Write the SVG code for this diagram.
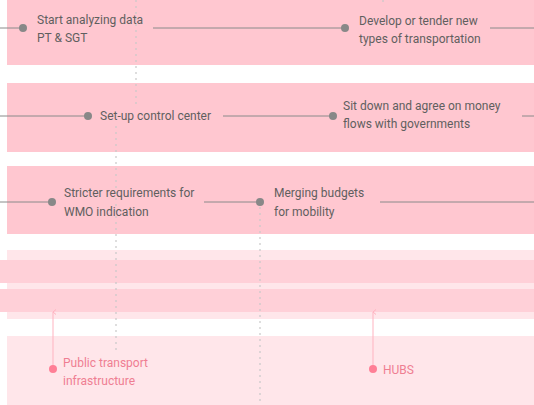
<svg xmlns="http://www.w3.org/2000/svg" width="534" height="405" viewBox="0 0 534 405">
  <style>
    .band { fill: #ffc7d0; }
    .band-light { fill: #ffe6ea; }
    .band-mid { fill: #ffd0d8; }
    .link { stroke: #8a8a8a; stroke-width: 1; fill: none; }
    .dots { stroke: #c8c8c8; stroke-width: 1.2; stroke-dasharray: 2 4; fill: none; }
    .pin { stroke: #ffb3c0; stroke-width: 1; fill: none; }
    .dot { fill: #888888; }
    .dot-pink { fill: #ff7f96; }
    .label { font-family: Roboto, "Liberation Sans", sans-serif; font-size: 12px; fill: #5f5f5f; }
    .label-pink { font-family: Roboto, "Liberation Sans", sans-serif; font-size: 12px; fill: #ef7e92; }
  </style>
  <defs>
    <marker id="tip" viewBox="0 0 6 6" refX="3" refY="1" markerWidth="6" markerHeight="6" orient="auto-start-reverse" markerUnits="userSpaceOnUse">
      <path d="M0.5,4 L3,1 L5.5,4" fill="none" stroke="#ffb3c0" stroke-width="1"/>
    </marker>
  </defs>

  <!-- background lanes -->
  <rect class="band" x="7" y="0" width="527" height="65"/>
  <rect class="band" x="7" y="83" width="527" height="69"/>
  <rect class="band" x="7" y="166" width="527" height="68"/>
  <rect class="band-light" x="7" y="250" width="527" height="69"/>
  <rect class="band-mid" x="0" y="260" width="534" height="23"/>
  <rect class="band-mid" x="0" y="289" width="534" height="23"/>
  <rect class="band-light" x="7" y="336" width="527" height="69"/>

  <!-- connectors -->
  <g id="connectors">
    <line class="dots" x1="136" y1="0" x2="136" y2="104"/>
    <line class="dots" x1="116" y1="126" x2="116" y2="353"/>
    <line class="dots" x1="260" y1="207" x2="260" y2="405"/>
    <line class="dots" x1="383" y1="0" x2="383" y2="6"/>

    <line class="link" x1="0" y1="28" x2="23" y2="28"/>
    <line class="link" x1="153" y1="28" x2="345" y2="28"/>
    <line class="link" x1="490" y1="28" x2="534" y2="28"/>

    <line class="link" x1="0" y1="116" x2="88" y2="116"/>
    <line class="link" x1="223" y1="116" x2="333" y2="116"/>
    <line class="link" x1="522" y1="116" x2="534" y2="116"/>

    <line class="link" x1="0" y1="202" x2="52" y2="202"/>
    <line class="link" x1="204" y1="202" x2="260" y2="202"/>
    <line class="link" x1="380" y1="202" x2="534" y2="202"/>

    <line class="pin" x1="53" y1="312" x2="53" y2="369" marker-start="url(#tip)"/>
    <line class="pin" x1="373" y1="312" x2="373" y2="369" marker-start="url(#tip)"/>
  </g>

  <g id="start-analyzing">
    <circle class="dot" cx="23" cy="28" r="4"/>
    <text class="label" x="37" y="24">Start analyzing data</text>
    <text class="label" x="37" y="42">PT &amp; SGT</text>
  </g>

  <g id="develop-tender">
    <circle class="dot" cx="345" cy="28" r="4"/>
    <text class="label" x="359" y="25">Develop or tender new</text>
    <text class="label" x="359" y="43">types of transportation</text>
  </g>

  <g id="control-center">
    <circle class="dot" cx="88" cy="116" r="4"/>
    <text class="label" x="100" y="120">Set-up control center</text>
  </g>

  <g id="money-flows">
    <circle class="dot" cx="333" cy="116" r="4"/>
    <text class="label" x="343" y="110">Sit down and agree on money</text>
    <text class="label" x="343" y="128">flows with governments</text>
  </g>

  <g id="wmo-requirements">
    <circle class="dot" cx="52" cy="202" r="4"/>
    <text class="label" x="64" y="197">Stricter requirements for</text>
    <text class="label" x="64" y="216">WMO indication</text>
  </g>

  <g id="merging-budgets">
    <circle class="dot" cx="260" cy="202" r="4"/>
    <text class="label" x="274" y="197">Merging budgets</text>
    <text class="label" x="274" y="216">for mobility</text>
  </g>

  <g id="pt-infrastructure">
    <circle class="dot-pink" cx="53" cy="369" r="4"/>
    <text class="label-pink" x="63" y="367">Public transport</text>
    <text class="label-pink" x="63" y="385">infrastructure</text>
  </g>

  <g id="hubs">
    <circle class="dot-pink" cx="373" cy="369" r="4"/>
    <text class="label-pink" x="383" y="374">HUBS</text>
  </g>
</svg>
